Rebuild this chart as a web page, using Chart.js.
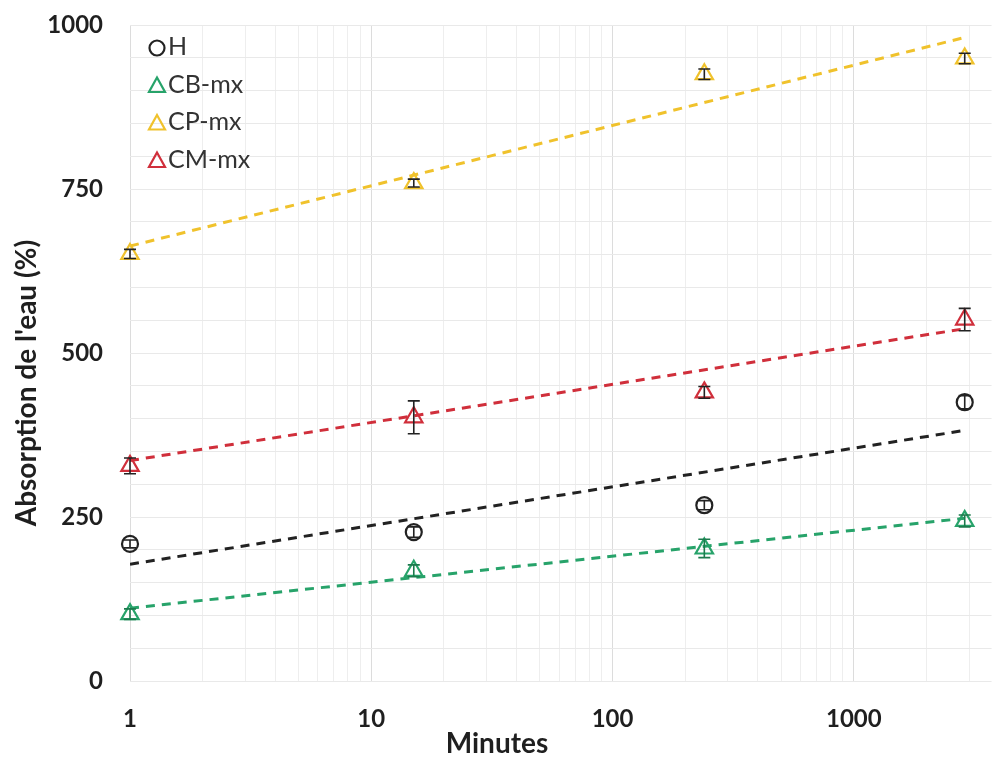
<!DOCTYPE html>
<html>
<head>
<meta charset="utf-8">
<script src="https://cdn.jsdelivr.net/npm/chart.js@4.4.1/dist/chart.umd.min.js"></script>
<style>
  html, body { margin: 0; padding: 0; background: #fff; }
  #wrap { width: 993px; height: 759px; position: relative; }
</style>
</head>
<body>
<div id="wrap"><canvas id="chart-absorption"></canvas></div>
<script>
// temps d'immersion (minutes)
const minutes = [1, 15, 240, 2880];

// absorption moyenne (%)
const hValues = [209, 227, 268, 425];
const cbValues = [102, 168, 202, 244];
const cpValues = [651, 759, 925, 949];
const cmValues = [328, 402, 440, 551];

const hErr = [6, 8, 7, 10];
const cbErr = [8, 9, 14, 9];
const cpErr = [7, 6, 8, 8];
const cmErr = [12, 25, 9, 17];

// courbes de tendance (log), valeurs aux extrémités
const trendX = [1, 2880];
const hTrend = [178, 382];
const cbTrend = [111, 248];
const cpTrend = [663, 981];
const cmTrend = [336, 537];

const xMajorTicks = [1, 10, 100, 1000];
const yLabelTicks = [0, 250, 500, 750, 1000];

const seriesNames = ["H", "CB-mx", "CP-mx", "CM-mx"];
const seriesColors = ["#222222", "#27a36a", "#f0c22c", "#d02f3b"];
const errColors = ["#222222", "#1c7a4c", "#222222", "#222222"];
const seriesStyles = ["circle", "triangle", "triangle", "triangle"];

const seriesValues = [hValues, cbValues, cpValues, cmValues];
const seriesErr = [hErr, cbErr, cpErr, cmErr];
const seriesTrend = [hTrend, cbTrend, cpTrend, cmTrend];

const FONT = "Lato, 'Open Sans', sans-serif";
const X_MAX = 3720;

const xGridTicks = [];
xMajorTicks.forEach((d) => {
  for (let k = 1; k < 10; k++) xGridTicks.push(d * k);
});

const pointDatasets = seriesNames.map((name, s) => ({
  type: "scatter",
  label: name,
  data: minutes.map((m, i) => ({ x: m, y: seriesValues[s][i] })),
  pointStyle: seriesStyles[s],
  radius: s === 0 ? 8 : 10,
  borderColor: seriesColors[s],
  backgroundColor: "rgba(255,255,255,0)",
  borderWidth: 2.2,
  clip: false,
  order: 0,
}));

const trendDatasets = seriesNames.map((name, s) => ({
  type: "line",
  label: name + " tendance",
  data: trendX.map((m, i) => ({ x: m, y: seriesTrend[s][i] })),
  borderColor: seriesColors[s],
  borderWidth: 3,
  borderDash: [9, 7],
  pointRadius: 0,
  fill: false,
  order: 1,
}));

const errorBars = {
  id: "errorBars",
  afterDatasetsDraw(chart) {
    const { ctx, scales: { x, y } } = chart;
    ctx.save();
    ctx.lineWidth = 1.6;
    seriesValues.forEach((vals, s) => {
      ctx.strokeStyle = errColors[s];
      vals.forEach((v, i) => {
        const px = x.getPixelForValue(minutes[i]);
        const top = y.getPixelForValue(v + seriesErr[s][i]);
        const bot = y.getPixelForValue(v - seriesErr[s][i]);
        ctx.beginPath();
        ctx.moveTo(px, top); ctx.lineTo(px, bot);
        ctx.moveTo(px - 6, top); ctx.lineTo(px + 6, top);
        ctx.moveTo(px - 6, bot); ctx.lineTo(px + 6, bot);
        ctx.stroke();
      });
    });
    ctx.restore();
  },
};

function drawMarker(ctx, style, cx, cy, color) {
  ctx.strokeStyle = color;
  ctx.lineWidth = 2.2;
  ctx.beginPath();
  if (style === "circle") {
    ctx.arc(cx, cy, 7.5, 0, Math.PI * 2);
  } else {
    ctx.moveTo(cx, cy - 8);
    ctx.lineTo(cx + 8, cy + 6.5);
    ctx.lineTo(cx - 8, cy + 6.5);
    ctx.closePath();
  }
  ctx.stroke();
}

const legendAndTitles = {
  id: "legendAndTitles",
  afterDraw(chart) {
    const { ctx, chartArea } = chart;
    ctx.save();
    ctx.font = "25px " + FONT;
    ctx.textBaseline = "middle";
    ctx.textAlign = "left";
    seriesNames.forEach((name, s) => {
      const ly = 47 + s * 37.5;
      const lx = chartArea.left + 27;
      drawMarker(ctx, seriesStyles[s], lx, ly + 1, seriesColors[s]);
      ctx.fillStyle = "#333";
      ctx.fillText(name, lx + 11, ly);
    });

    ctx.fillStyle = "#1f1f1f";
    ctx.font = "bold 28px " + FONT;
    ctx.textAlign = "center";
    ctx.fillText("Minutes", 497, 744);

    ctx.translate(27, 383);
    ctx.rotate(-Math.PI / 2);
    ctx.fillText("Absorption de l'eau (%)", 0, 0);
    ctx.restore();
  },
};

new Chart(document.getElementById("chart-absorption"), {
  data: { datasets: [...pointDatasets, ...trendDatasets] },
  options: {
    responsive: true,
    maintainAspectRatio: false,
    animation: false,
    layout: { autoPadding: false, padding: { top: 25, left: 0, right: 0, bottom: 0 } },
    plugins: { legend: { display: false }, tooltip: { enabled: false } },
    scales: {
      x: {
        type: "logarithmic",
        min: 1,
        max: X_MAX,
        afterBuildTicks: (scale) => {
          scale.ticks = xGridTicks.filter((v) => v <= X_MAX).map((v) => ({ value: v }));
        },
        afterFit: (scale) => { scale.height = 78; },
        border: { display: false },
        grid: {
          drawTicks: false,
          color: (c) => (xMajorTicks.includes(c.tick.value) ? "#dcdcdc" : "#eeeeee"),
        },
        ticks: {
          autoSkip: false,
          maxRotation: 0,
          padding: 24,
          color: "#1f1f1f",
          font: { family: FONT, size: 24, weight: "bold" },
          callback: (v) => (xMajorTicks.includes(v) ? String(v) : ""),
        },
      },
      y: {
        min: 0,
        max: 1000,
        afterFit: (scale) => {
          scale.width = 130;
          scale.paddingTop = 0;
          scale.paddingBottom = 0;
        },
        border: { display: false },
        grid: { drawTicks: false, color: "#e9e9e9" },
        ticks: {
          stepSize: 50,
          autoSkip: false,
          padding: 27,
          color: "#1f1f1f",
          font: { family: FONT, size: 24, weight: "bold" },
          callback: (v) => (yLabelTicks.includes(v) ? String(v) : ""),
        },
      },
    },
  },
  plugins: [errorBars, legendAndTitles],
});
</script>
</body>
</html>
